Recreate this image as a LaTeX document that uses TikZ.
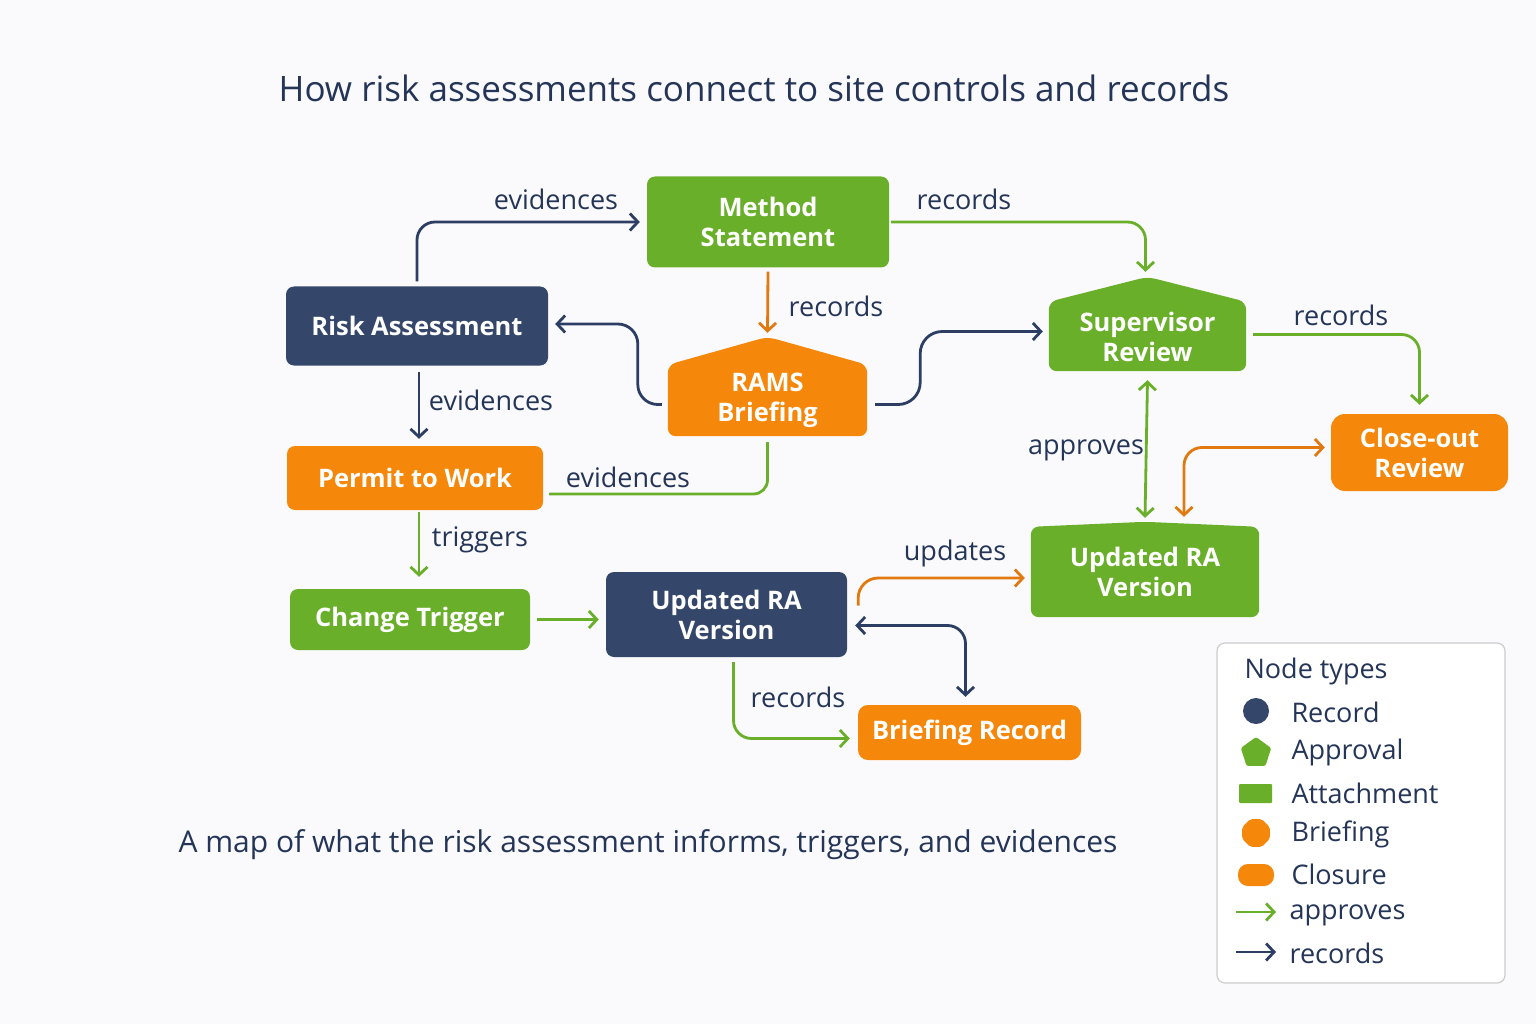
\documentclass[tikz,border=0pt]{standalone}
\usepackage{fontspec}
\setmainfont{Open Sans}
\usetikzlibrary{arrows.meta,shapes.geometric}

\definecolor{navyC}{HTML}{34476B}
\definecolor{greenC}{HTML}{6AAF2A}
\definecolor{orangeC}{HTML}{F5870A}
\definecolor{lineNavy}{HTML}{2C3E63}
\definecolor{lineOrange}{HTML}{E27810}
\definecolor{textC}{HTML}{243558}
\definecolor{bgC}{HTML}{FAFAFC}

\pgfdeclarelayer{bg}
\pgfsetlayers{bg,main}

\tikzset{
  box/.style={rounded corners=8pt, text=white, align=center, inner sep=0pt,
    font=\bfseries\fontsize{25.5}{30}\selectfont},
  recbox/.style={box, fill=navyC},
  attbox/.style={box, fill=greenC},
  brfbox/.style={box, fill=orangeC},
  housebox/.style={box},
  lbl/.style={text=textC, font=\fontsize{27}{30}\selectfont},
  link/.style={line width=2.8pt, rounded corners=18pt,
    -{Straight Barb[length=8pt,width=17pt]}},
  twoway/.style={line width=2.8pt, rounded corners=18pt,
    {Straight Barb[length=8pt,width=17pt]}-{Straight Barb[length=8pt,width=17pt]}},
}

\begin{document}
\begin{tikzpicture}[x=1pt,y=-1pt]
  \begin{pgfonlayer}{bg}
    \fill[bgC] (0,0) rectangle (1536,1024);
  \end{pgfonlayer}

  \node[lbl, font=\fontsize{35}{38}\selectfont] (title) at (754,88)
    {How risk assessments connect to site controls and records};

  % nodes
  \node[attbox, minimum width=242pt, minimum height=91pt] (ms) at (768,222) {Method\\Statement};
  \node[recbox, minimum width=262pt, minimum height=79pt] (ra) at (417,326) {Risk Assessment};
  \node[housebox, minimum width=199pt, minimum height=71pt] (rams) at (767.5,400.5) {RAMS\\Briefing};
  \node[housebox, minimum width=197pt, minimum height=69pt] (sr) at (1147.5,336.5) {Supervisor\\Review};
  \node[brfbox, minimum width=256pt, minimum height=64pt] (pw) at (415,478) {Permit to Work};
  \node[brfbox, rounded corners=14pt, minimum width=177pt, minimum height=77pt] (co) at (1419.5,452.5) {Close-out\\Review};
  \node[attbox, minimum width=240pt, minimum height=61pt] (ct) at (410,619.5) {Change Trigger};
  \node[recbox, minimum width=241pt, minimum height=85pt] (ura) at (726.5,614.5) {Updated RA\\Version};
  \node[housebox, minimum width=228pt, minimum height=90pt] (ug) at (1145,572) {Updated RA\\Version};
  \node[brfbox, rounded corners=10pt, minimum width=223pt, minimum height=55pt] (br) at (969.5,732.5) {Briefing Record};

  \begin{pgfonlayer}{bg}
    \fill[orangeC, rounded corners=8pt] (rams.south west) -- (rams.north west)
      -- ([yshift=28pt]rams.north) -- (rams.north east) -- (rams.south east) -- cycle;
    \fill[greenC, rounded corners=8pt] (sr.south west) -- (sr.north west)
      -- ([yshift=25pt]sr.north) -- (sr.north east) -- (sr.south east) -- cycle;
    \fill[greenC, rounded corners=8pt] (ug.south west) -- (ug.north west)
      -- ([yshift=5pt]ug.north) -- (ug.north east) -- (ug.south east) -- cycle;
  \end{pgfonlayer}

  % connectors
  \draw[link, lineNavy] ([yshift=5pt]ra.north) |- ([xshift=-7pt]ms.west);
  \draw[link, greenC] ([xshift=2pt]ms.east) -| ([xshift=-2pt,yshift=30pt]sr.north);
  \draw[link, lineOrange] ([yshift=-4pt]ms.south) -- ([yshift=32pt]rams.north);
  \draw[link, lineNavy, rounded corners=20pt] ([xshift=-6pt,yshift=-4pt]rams.west) -- ++(-24,0) |- ([xshift=7pt,yshift=2pt]ra.east);
  \draw[link, lineNavy, rounded corners=22pt] ([xshift=8pt,yshift=-4pt]rams.east) -- ++(45,0) |- ([xshift=-6pt,yshift=5pt]sr.west);
  \draw[link, greenC] ([xshift=7pt,yshift=2pt]sr.east) -| ([yshift=9pt]co.north);
  \draw[twoway, greenC] ([yshift=-9pt]sr.south) -- ([yshift=9pt]ug.north);
  \draw[twoway, lineOrange] ([xshift=-6pt,yshift=5pt]co.west) -| ([xshift=39pt,yshift=10pt]ug.north);
  \draw[link, lineNavy] ([xshift=2pt,yshift=-6pt]ra.south) -- ([xshift=4pt,yshift=7pt]pw.north);
  \draw[line width=2.8pt, greenC, rounded corners=14pt] ([yshift=-6pt]rams.south) |- ([xshift=6pt,yshift=-16pt]pw.east);
  \draw[link, greenC] ([xshift=4pt,yshift=-2pt]pw.south) -- ([xshift=9pt,yshift=12pt]ct.south |- ct.north);
  \draw[link, greenC] ([xshift=7pt]ct.east) -- ([xshift=-7pt]ura.west |- ct.east);
  \draw[link, lineOrange, rounded corners=20pt] ([xshift=11pt,yshift=9pt]ura.east) |- ([xshift=-6pt,yshift=-6pt]ug.west);
  \draw[twoway, lineNavy] ([xshift=8pt,yshift=-11pt]ura.east) -| ([xshift=-4pt,yshift=8pt]br.north);
  \draw[link, greenC] ([xshift=7pt,yshift=-5pt]ura.south) |- ([xshift=-8pt,yshift=-6pt]br.west);

  % connector labels
  \node[lbl] (l1) at (556,199) {evidences};
  \node[lbl] (l2) at (964,199) {records};
  \node[lbl] (l3) at (836,306) {records};
  \node[lbl] (l4) at (1341,315) {records};
  \node[lbl] (l5) at (491,400) {evidences};
  \node[lbl] (l6) at (1086,450) {approves};
  \node[lbl] (l7) at (628,477) {evidences};
  \node[lbl] (l8) at (480,540) {triggers};
  \node[lbl] (l9) at (955,553) {updates};
  \node[lbl] (l10) at (798,697) {records};

  \node[lbl, font=\fontsize{30}{34}\selectfont] (caption) at (648,845)
    {A map of what the risk assessment informs, triggers, and evidences};

  % legend
  \node[draw=black!20, fill=white, rounded corners=8pt, line width=1.2pt,
    minimum width=288pt, minimum height=340pt] (legend) at (1361,813) {};
  \node[lbl, anchor=west] (lgtitle) at (1241,671) {Node types};
  \fill[navyC] (1256,711) circle (13);
  \node[regular polygon, regular polygon sides=5, fill=greenC, minimum size=32pt,
    inner sep=0pt, rounded corners=1.5pt] (lgapp) at (1256,753) {};
  \fill[greenC, rounded corners=1pt] (1239,784) rectangle (1272,803);
  \node[regular polygon, regular polygon sides=8, fill=orangeC, minimum size=30pt,
    inner sep=0pt, rounded corners=2pt] (lgbrf) at (1256,833) {};
  \fill[orangeC, rounded corners=10pt] (1238,864) rectangle (1274,886);
  \draw[link, greenC] (1236,912) -- (1276,912);
  \draw[link, lineNavy] (1236,952) -- (1276,952);
  \node[lbl, anchor=west] (lg1) at (1288,712) {Record};
  \node[lbl, anchor=west] (lg2) at (1288,752) {Approval};
  \node[lbl, anchor=west] (lg3) at (1288,793) {Attachment};
  \node[lbl, anchor=west] (lg4) at (1288,834) {Briefing};
  \node[lbl, anchor=west] (lg5) at (1288,874) {Closure};
  \node[lbl, anchor=west] (lg6) at (1286,915) {approves};
  \node[lbl, anchor=west] (lg7) at (1286,953) {records};
\end{tikzpicture}
\end{document}
